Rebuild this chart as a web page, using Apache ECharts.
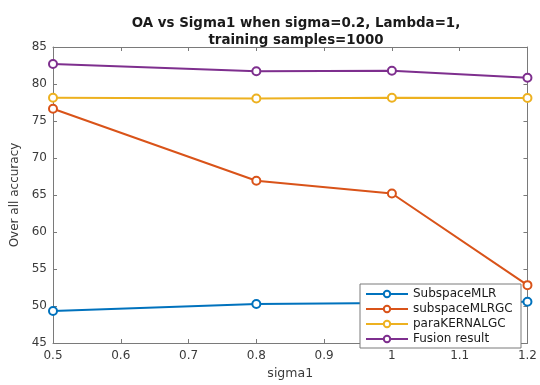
<!DOCTYPE html>
<html>
<head>
<meta charset="utf-8">
<script src="https://cdn.jsdelivr.net/npm/echarts@6/dist/echarts.min.js"></script>
<style>
  html, body { margin: 0; padding: 0; background: #fff; }
  #chart { width: 540px; height: 385px; }
</style>
</head>
<body>
<div id="chart"></div>
<script>
// sigma1 values on the x axis
const sigma1 = [0.5, 0.8, 1.0, 1.2];

// overall accuracy (%) per method
const subspaceMLR   = [49.33, 50.27, 50.4, 50.57];
const subspaceMLRGC = [76.65, 66.93, 65.2, 52.82];
const paraKERNALGC  = [78.13, 78.04, 78.13, 78.1];
const fusionResult  = [82.7, 81.73, 81.78, 80.84];

const seriesNames  = ['SubspaceMLR', 'subspaceMLRGC', 'paraKERNALGC', 'Fusion result'];
const seriesValues = [subspaceMLR, subspaceMLRGC, paraKERNALGC, fusionResult];
const colors = ['#0072BD', '#D95319', '#EDB120', '#7E2F8E'];

const axisColor = '#7a7a7a';
const labelColor = '#3a3a3a';
const font = 'DejaVu Sans, Verdana, sans-serif';

const chart = echarts.init(document.getElementById('chart'), null, { renderer: 'canvas' });

const series = seriesNames.map((name, i) => ({
  name,
  type: 'line',
  data: sigma1.map((x, j) => [x, seriesValues[i][j]]),
  symbol: 'emptyCircle',
  symbolSize: 8,
  showAllSymbol: true,
  lineStyle: { width: 2, color: colors[i] },
  itemStyle: { color: colors[i], borderWidth: 1.8, borderColor: colors[i] },
  emphasis: { disabled: true },
  animation: false,
  z: 2 + i
}));

chart.setOption({
  animation: false,
  backgroundColor: '#fff',
  title: {
    text: 'OA vs Sigma1 when sigma=0.2, Lambda=1,\ntraining samples=1000',
    left: 291,
    top: 10,
    textAlign: 'center',
    textStyle: { fontFamily: font, fontSize: 13.4, fontWeight: 'bold', color: '#1a1a1a', lineHeight: 17 }
  },
  grid: { left: 53, right: 11, top: 47, bottom: 39, show: false },
  legend: {
    orient: 'vertical',
    left: 360,
    top: 284,
    itemWidth: 42,
    itemHeight: 8,
    itemGap: 1,
    padding: [3, 4, 2, 5],
    backgroundColor: '#fff',
    borderColor: axisColor,
    borderWidth: 1,
    borderRadius: 0,
    textStyle: { fontFamily: font, fontSize: 12, color: '#1a1a1a', width: 104, lineHeight: 14, overflow: 'none' },
    data: seriesNames
  },
  xAxis: [{
    type: 'value',
    min: 0.5, max: 1.2, interval: 0.1,
    name: 'sigma1',
    nameLocation: 'middle',
    nameGap: 24,
    nameTextStyle: { fontFamily: font, fontSize: 12.5, color: labelColor },
    axisLine: { show: true, lineStyle: { color: axisColor, width: 1 } },
    axisTick: { show: true, inside: true, length: 4, lineStyle: { color: axisColor } },
    axisLabel: { fontFamily: font, fontSize: 12, color: labelColor, margin: 7,
      formatter: v => String(Math.round(v * 10) / 10) },
    splitLine: { show: false }
  }, {
    type: 'value', position: 'top',
    min: 0.5, max: 1.2, interval: 0.1,
    axisLine: { show: true, lineStyle: { color: axisColor, width: 1 } },
    axisTick: { show: true, inside: true, length: 4, lineStyle: { color: axisColor } },
    axisLabel: { show: false },
    splitLine: { show: false }
  }],
  yAxis: [{
    type: 'value',
    min: 45, max: 85, interval: 5,
    name: 'Over all accuracy',
    nameLocation: 'middle',
    nameGap: 29,
    nameTextStyle: { fontFamily: font, fontSize: 12, color: labelColor },
    axisLine: { show: true, lineStyle: { color: axisColor, width: 1 } },
    axisTick: { show: true, inside: true, length: 4, lineStyle: { color: axisColor } },
    axisLabel: { fontFamily: font, fontSize: 12, color: labelColor, margin: 6 },
    splitLine: { show: false }
  }, {
    type: 'value', position: 'right',
    min: 45, max: 85, interval: 5,
    axisLine: { show: true, lineStyle: { color: axisColor, width: 1 } },
    axisTick: { show: true, inside: true, length: 4, lineStyle: { color: axisColor } },
    axisLabel: { show: false },
    splitLine: { show: false }
  }],
  series
});
</script>
</body>
</html>
